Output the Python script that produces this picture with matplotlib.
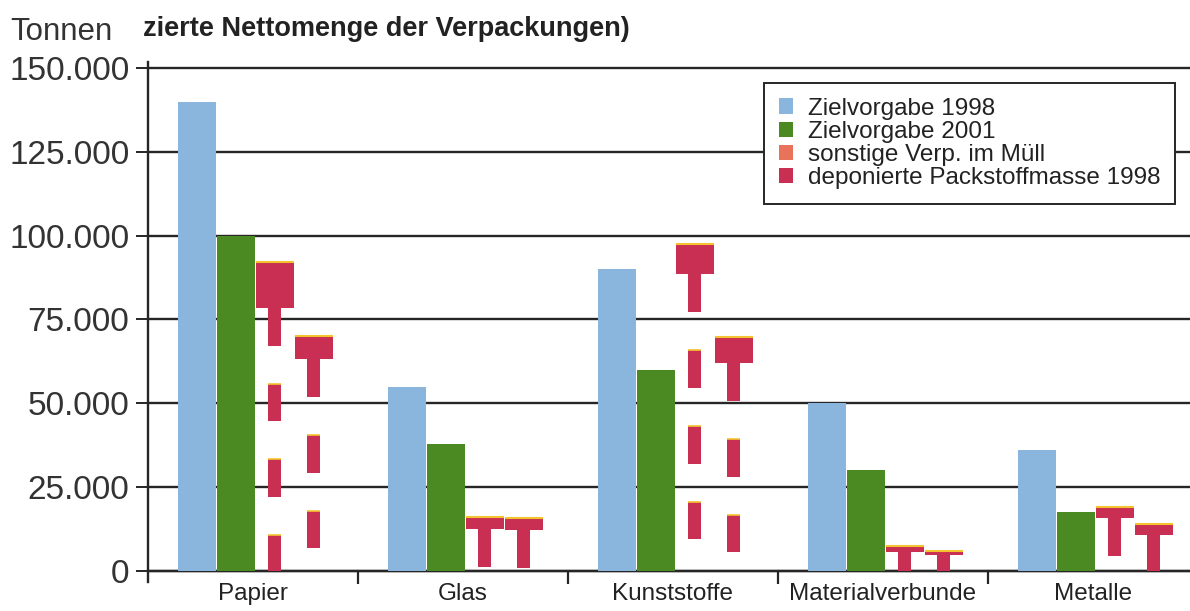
import numpy as np
from matplotlib import pyplot as plt
from matplotlib.patches import Patch

plt.rcParams['font.family'] = ['Liberation Sans', 'DejaVu Sans']

categories = ['Papier', 'Glas', 'Kunststoffe', 'Materialverbunde', 'Metalle']
ziel_1998 = [140000, 55000, 90000, 50000, 36000]
ziel_2001 = [100000, 38000, 60000, 30000, 17500]
# first T pictogram per group (top of cap, bottom of cap)
t1_top = [92000, 16000, 97500, 7500, 19000]
t1_cap = [78500, 12500, 88500, 5700, 15800]
# second T pictogram per group
t2_top = [70000, 15800, 69800, 6000, 14000]
t2_cap = [63200, 12300, 62000, 4800, 10700]
legend_labels = ['Zielvorgabe 1998', 'Zielvorgabe 2001',
                 'sonstige Verp. im Müll', 'deponierte Packstoffmasse 1998']
yticks = [0, 25000, 50000, 75000, 100000, 125000, 150000]
ytick_labels = ['0', '25.000', '50.000', '75.000', '100.000', '125.000', '150.000']

blue = '#8ab6de'
green = '#4b8a22'
orange = '#e8735a'
crimson = '#c82f52'
yellow = '#f4c430'
ink = '#262626'

W, H = 1190, 611
fig = plt.figure(figsize=(W / 100, H / 100), dpi=100)
ax = fig.add_axes([148 / W, (H - 582) / H, (W - 148) / W, 520 / H])

x = np.arange(len(categories))
bw = 0.182
offs = [-0.265, -0.08, 0.103, 0.29]
stem_w = 0.062
dash = 11300

ax.bar(x + offs[0], ziel_1998, bw, color=blue, zorder=3)
ax.bar(x + offs[1], ziel_2001, bw, color=green, zorder=3)


def draw_t(xc, top, cap):
    ax.bar(xc, top - cap, bw, bottom=cap, color=crimson, zorder=3)
    ax.hlines(top, xc - bw / 2, xc + bw / 2, color=yellow, lw=1.5, zorder=4)
    # dashed stem going down from the cap to the baseline
    for start in np.arange(cap, 0, -2 * dash):
        end = max(start - dash, 0)
        ax.bar(xc, start - end, stem_w, bottom=end, color=crimson, zorder=3)
        if start < cap:
            ax.hlines(start, xc - stem_w / 2, xc + stem_w / 2, color=yellow, lw=1.2, zorder=4)


for i in range(len(categories)):
    draw_t(x[i] + offs[2], t1_top[i], t1_cap[i])
    draw_t(x[i] + offs[3], t2_top[i], t2_cap[i])

ax.set_xlim(-0.5, 4.462)
ax.set_ylim(-3300, 151800)

for s in ['top', 'right']:
    ax.spines[s].set_visible(False)
ax.spines['left'].set_color(ink)
ax.spines['left'].set_linewidth(1.7)
ax.spines['bottom'].set_position(('data', 0))
ax.spines['bottom'].set_color(ink)
ax.spines['bottom'].set_linewidth(1.7)

ax.set_yticks(yticks)
ax.set_yticklabels(ytick_labels)
ax.tick_params(axis='y', direction='out', length=8.5, width=1.4, color=ink,
               labelsize=24, labelcolor='#333333', pad=5)
ax.yaxis.grid(True, color=ink, lw=1.7, zorder=1)
ax.set_axisbelow(True)

ax.set_xticks(x)
ax.set_xticklabels(categories)
ax.set_xticks(x[:-1] + 0.5, minor=True)
ax.tick_params(axis='x', which='major', length=0, labelsize=17.5, labelcolor='#222222', pad=9)
ax.tick_params(axis='x', which='minor', direction='out', length=9, width=1.6, color=ink)

fig.text(10 / W, 1 - 40 / H, 'Tonnen', fontsize=22.5, color='#333333', va='baseline')
fig.text(143 / W, 1 - 36 / H, 'zierte Nettomenge der Verpackungen)', fontsize=19.5,
         fontweight='bold', color='#222222', va='baseline')

handles = [Patch(facecolor=blue), Patch(facecolor=green),
           Patch(facecolor=orange), Patch(facecolor=crimson)]
leg = ax.legend(handles, legend_labels, loc='upper right',
                bbox_to_anchor=(1175 / W, 1 - 83 / H), bbox_transform=fig.transFigure,
                fontsize=17.5, frameon=True, fancybox=False, framealpha=1,
                edgecolor=ink, handlelength=0.6, handleheight=0.6, handletextpad=0.6,
                labelspacing=0.05, borderpad=0.6, borderaxespad=0)
leg.get_frame().set_linewidth(1.4)
for t in leg.get_texts():
    t.set_color('#222222')
leg.set_zorder(5)

fig.savefig('out.png', dpi=100)
